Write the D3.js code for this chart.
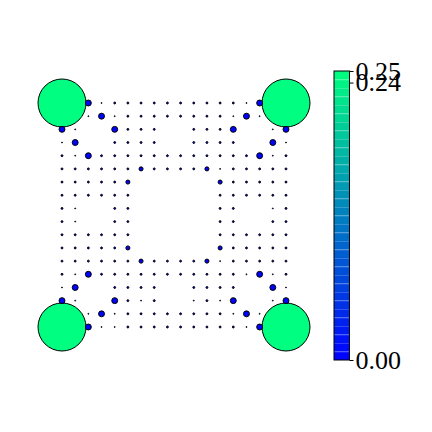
<!DOCTYPE html>
<html>
<head>
<meta charset="utf-8">
<script src="https://cdn.jsdelivr.net/npm/d3@7"></script>
<style>
  body { margin: 0; background: #fff; }
  svg { display: block; }
</style>
</head>
<body>
<svg id="chart"></svg>
<script>
// grid values, row 0 at top, 18 x 18
const B = 0.25, M = 0.0038, S = 0.0018, d = 0.0004, t = 0.0001;
const grid = [
  [B, 0, M, t, d, d, d, d, d, d, d, d, d, d, t, M, 0, B],
  [0, 0, t, M, t, d, d, d, d, d, d, d, d, t, M, t, 0, 0],
  [M, t, 0, 0, M, d, d, d, 0, 0, d, d, d, M, 0, 0, t, M],
  [t, M, 0, 0, d, d, d, d, 0, 0, d, d, d, d, 0, 0, M, t],
  [d, t, M, d, d, d, d, d, d, d, d, d, d, d, d, M, t, d],
  [d, d, d, d, d, d, S, d, d, d, d, S, t, d, d, d, d, d],
  [d, d, d, d, d, S, 0, 0, 0, 0, 0, 0, S, d, d, d, d, d],
  [d, d, d, d, d, d, 0, 0, 0, 0, 0, 0, d, d, d, d, d, d],
  [d, t, 0, 0, d, d, 0, 0, 0, 0, 0, 0, d, d, 0, 0, t, d],
  [d, t, 0, 0, d, d, 0, 0, 0, 0, 0, 0, d, d, 0, 0, d, d],
  [d, d, d, d, d, d, 0, 0, 0, 0, 0, 0, d, d, d, d, d, d],
  [d, d, d, d, d, S, 0, 0, 0, 0, 0, 0, S, d, d, d, d, d],
  [d, d, d, d, d, d, S, d, d, d, d, S, t, d, d, d, d, d],
  [d, t, M, d, d, d, d, d, d, d, d, d, d, d, t, M, t, d],
  [t, M, 0, 0, d, d, d, d, 0, 0, d, d, d, d, 0, 0, M, t],
  [M, t, 0, 0, M, d, t, d, 0, 0, t, d, t, M, 0, 0, t, M],
  [0, 0, t, M, t, d, d, d, d, d, d, d, d, t, M, t, 0, 0],
  [B, 0, M, t, t, d, d, d, d, d, d, d, d, d, t, M, 0, B]
];
const cbTicks = [0.00, 0.24, 0.25];
const cbDomain = [0, 0.25];
const cbBands = 34;

const width = 432, height = 432;
const svg = d3.select("#chart").attr("width", width).attr("height", height);

// matplotlib "winter": blue -> spring green
const winter = v => {
  const f = Math.max(0, Math.min(1, v / cbDomain[1]));
  return d3.rgb(0, 255 * f, 255 * (1 - 0.5 * f)).formatHex();
};

const x = d3.scaleLinear().domain([0, 17]).range([62, 286]);
const y = d3.scaleLinear().domain([0, 17]).range([103, 327]);
const r = d3.scaleSqrt().domain(cbDomain).range([0, 24]);

const pts = [];
grid.forEach((row, i) => row.forEach((v, j) => {
  if (v > 0) pts.push({ i, j, v });
}));
pts.sort((a, b) => b.v - a.v);

svg.append("g").selectAll("circle")
  .data(pts)
  .enter().append("circle")
  .attr("cx", p => x(p.j))
  .attr("cy", p => y(p.i))
  .attr("r", p => r(p.v))
  .attr("fill", p => winter(p.v))
  .attr("stroke", "#000")
  .attr("stroke-width", 1);

// colorbar
const cbX = 334, cbW = 15.5;
const cy = d3.scaleLinear().domain(cbDomain).range([360, 71]);
const bands = d3.range(cbBands).map(k => [
  cbDomain[0] + (cbDomain[1] - cbDomain[0]) * k / cbBands,
  cbDomain[0] + (cbDomain[1] - cbDomain[0]) * (k + 1) / cbBands
]);
const cb = svg.append("g");
cb.selectAll("rect.band")
  .data(bands)
  .enter().append("rect")
  .attr("class", "band")
  .attr("x", cbX)
  .attr("y", b => cy(b[1]))
  .attr("width", cbW)
  .attr("height", b => cy(b[0]) - cy(b[1]))
  .attr("fill", b => winter((b[0] + b[1]) / 2));
cb.selectAll("line.sep")
  .data(bands.slice(1))
  .enter().append("line")
  .attr("class", "sep")
  .attr("x1", cbX).attr("x2", cbX + cbW)
  .attr("y1", b => cy(b[0]) + 0.5).attr("y2", b => cy(b[0]) + 0.5)
  .attr("stroke", "#fff").attr("stroke-opacity", 0.2).attr("stroke-width", 1);
cb.append("rect")
  .attr("x", cbX).attr("y", cy(cbDomain[1]))
  .attr("width", cbW).attr("height", cy(cbDomain[0]) - cy(cbDomain[1]))
  .attr("fill", "none").attr("stroke", "#000").attr("stroke-width", 1);

const axis = d3.axisRight(cy)
  .tickValues(cbTicks)
  .tickFormat(d3.format(".2f"))
  .tickSizeInner(4)
  .tickSizeOuter(0)
  .tickPadding(2);
const ax = cb.append("g")
  .attr("transform", `translate(${cbX + cbW},0)`)
  .call(axis);
ax.select(".domain").remove();
ax.selectAll(".tick line").attr("stroke", "#000").attr("stroke-width", 1);
ax.selectAll(".tick text")
  .attr("fill", "#000")
  .style("font-family", "'Liberation Serif', 'DejaVu Serif', serif")
  .style("font-size", "26px");
</script>
</body>
</html>
